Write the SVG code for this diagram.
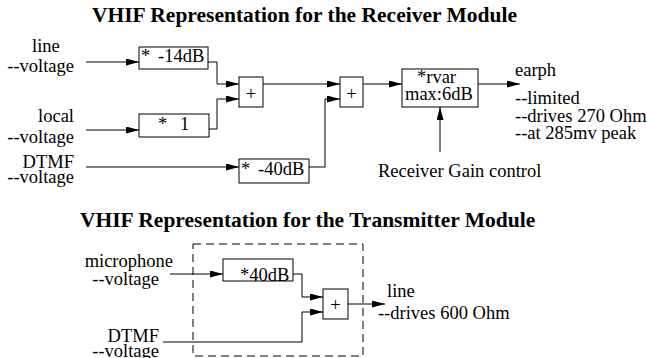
<svg xmlns="http://www.w3.org/2000/svg" width="647" height="358" viewBox="0 0 647 358">
<style>
text{font-family:"Liberation Serif","Times New Roman",serif;font-size:18.5px;fill:#000}
.title{font-weight:bold;font-size:21.5px}
.box{fill:none;stroke:#000;stroke-width:1}
.wire{fill:none;stroke:#000;stroke-width:1}
.arr{marker-end:url(#ah)}
.dash{fill:none;stroke:#000;stroke-width:1;stroke-dasharray:8 5}
</style>
<defs>
<marker id="ah" markerUnits="userSpaceOnUse" markerWidth="14" markerHeight="8" refX="13" refY="3.5" orient="auto">
<path d="M0,0 L13,3.5 L0,7 z" fill="#000"/>
</marker>
</defs>
<text class="title" x="92" y="22">VHIF Representation for the Receiver Module</text>
<text class="title" x="80" y="227">VHIF Representation for the Transmitter Module</text>

<g id="in-line"><text x="32" y="52">line</text><text x="74" y="72" text-anchor="end">--voltage</text></g>
<g id="in-local"><text x="74" y="122" text-anchor="end">local</text><text x="74" y="143" text-anchor="end">--voltage</text></g>
<g id="in-dtmf"><text x="74" y="168" text-anchor="end">DTMF</text><text x="74" y="183" text-anchor="end">--voltage</text></g>

<g id="g14"><rect class="box" x="139" y="47" width="69" height="22"/><text x="141" y="62">*<tspan x="158">-14dB</tspan></text></g>
<g id="g1"><rect class="box" x="139" y="114" width="70" height="23"/><text x="158" y="130">*<tspan x="180">1</tspan></text></g>
<g id="g40"><rect class="box" x="239" y="159" width="70" height="24"/><text x="241" y="175">*<tspan x="258">-40dB</tspan></text></g>
<g id="sum1"><rect class="box" x="239" y="77" width="24" height="30"/><text x="251" y="100" text-anchor="middle">+</text></g>
<g id="sum2"><rect class="box" x="340" y="77" width="23" height="30"/><text x="351.5" y="100" text-anchor="middle">+</text></g>
<g id="rvar"><rect class="box" x="402" y="69" width="76" height="38"/><text x="417" y="83">*rvar</text><text x="405" y="100">max:6dB</text></g>
<g id="earph"><text x="515" y="76">earph</text><text x="515" y="104">--limited</text><text x="515" y="121.5">--drives 270 Ohm</text><text x="515" y="139">--at 285mv peak</text></g>
<g id="gain"><text x="378" y="177">Receiver Gain control</text></g>

<g id="tx-frame"><rect class="dash" x="193" y="244" width="170" height="112"/></g>
<g id="in-mic"><text x="173" y="267" text-anchor="end">microphone</text><text x="159" y="285" text-anchor="end">--voltage</text></g>
<g id="in-dtmf2"><text x="159" y="342" text-anchor="end">DTMF</text><text x="159" y="357" text-anchor="end">--voltage</text></g>
<g id="g40b"><rect class="box" x="223" y="259" width="70" height="22"/><text x="240" y="281">*40dB</text></g>
<g id="sum3"><rect class="box" x="323" y="289" width="25" height="30"/><text x="335.5" y="311" text-anchor="middle">+</text></g>
<g id="out-line"><text x="387" y="297">line</text><text x="378" y="319">--drives 600 Ohm</text></g>

<g id="connectors">
<path class="wire arr" d="M86,62 H139"/>
<path class="wire arr" d="M86,130 H139"/>
<path class="wire arr" d="M86,167 H239"/>
<path class="wire arr" d="M208,62 H217 V84 H239"/>
<path class="wire arr" d="M209,129 H217 V99 H239"/>
<path class="wire arr" d="M263,84 H340"/>
<path class="wire arr" d="M309,167 H325 V99 H340"/>
<path class="wire arr" d="M363,84 H402"/>
<path class="wire arr" d="M478,84 H520"/>
<path class="wire arr" d="M440,152 V107"/>
<path class="wire arr" d="M170,274 H223"/>
<path class="wire arr" d="M293,274 H302 V297 H323"/>
<path class="wire arr" d="M163,342 H302 V312 H323"/>
<path class="wire arr" d="M348,304 H385"/>
</g>
</svg>
